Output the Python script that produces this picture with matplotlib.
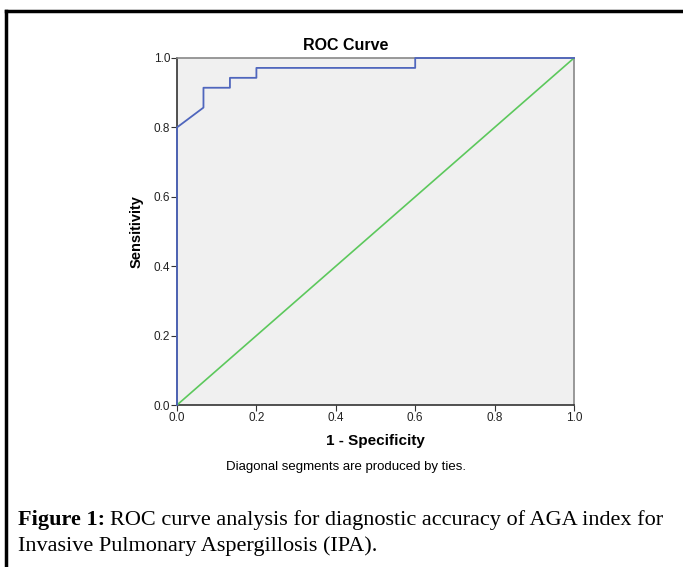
import matplotlib.pyplot as plt
from matplotlib.lines import Line2D

plt.rcParams["font.family"] = ["Liberation Sans", "DejaVu Sans"]

# --- data: ROC step points (1 - specificity, sensitivity) ---
fpr = [0.0, 0.0, 1/15, 1/15, 2/15, 2/15, 3/15, 3/15, 9/15, 9/15, 1.0]
tpr = [0.0, 0.8, 30/35, 32/35, 32/35, 33/35, 33/35, 34/35, 34/35, 1.0, 1.0]
ref_x = [0.0, 1.0]
ref_y = [0.0, 1.0]
ticks = [0.0, 0.2, 0.4, 0.6, 0.8, 1.0]
tick_labels = ["0.0", "0.2", "0.4", "0.6", "0.8", "1.0"]

W, H = 683, 567
fig = plt.figure(figsize=(W / 100, H / 100), dpi=100)
ax = fig.add_axes([177 / W, 1 - 405 / H, (574 - 177) / W, (405 - 58) / H])
ax.set_facecolor("#f0f0f0")

ax.plot(ref_x, ref_y, color="#5cc85c", lw=1.2, zorder=3)
ax.plot(fpr, tpr, color="#4f66bd", lw=1.3, zorder=4, clip_on=False)

ax.set_xlim(0, 1)
ax.set_ylim(0, 1)
ax.set_xticks(ticks)
ax.set_xticklabels(tick_labels)
ax.set_yticks(ticks)
ax.set_yticklabels(tick_labels)
ax.tick_params(labelsize=8.5, labelcolor="#222222", length=4, width=0.8,
               color="#333333", pad=1)
for s in ["left", "bottom"]:
    ax.spines[s].set_color("#333333")
    ax.spines[s].set_linewidth(1.2)
for s in ["right", "top"]:
    ax.spines[s].set_color("#888888")
    ax.spines[s].set_linewidth(1.2)

fig.text(346 / W, 1 - 45 / H, "ROC Curve", fontsize=11.5, fontweight="bold",
         ha="center", va="center")
ax.set_xlabel("1 - Specificity", fontsize=11, fontweight="bold", labelpad=7)
ax.set_ylabel("Sensitivity", fontsize=10.5, fontweight="bold", labelpad=7)

fig.text(346 / W, 1 - 467 / H, "Diagonal segments are produced by ties.",
         ha="center", va="center", fontsize=9.5)

# caption
cap = dict(fontsize=16, family="Liberation Serif", va="center", ha="left")
fig.text(18 / W, 1 - 520 / H, "Figure 1:", fontweight="bold", **cap)
fig.text(110 / W, 1 - 520 / H,
         "ROC curve analysis for diagnostic accuracy of AGA index for", **cap)
fig.text(18 / W, 1 - 546 / H, "Invasive Pulmonary Aspergillosis (IPA).", **cap)

# frame lines (left and top)
fig.add_artist(Line2D([6 / W, 6 / W], [0, 1 - 11 / H], color="black", lw=2.5))
fig.add_artist(Line2D([6 / W, 1], [1 - 11 / H, 1 - 11 / H], color="black", lw=2.5))

fig.savefig("out.png", dpi=100)
